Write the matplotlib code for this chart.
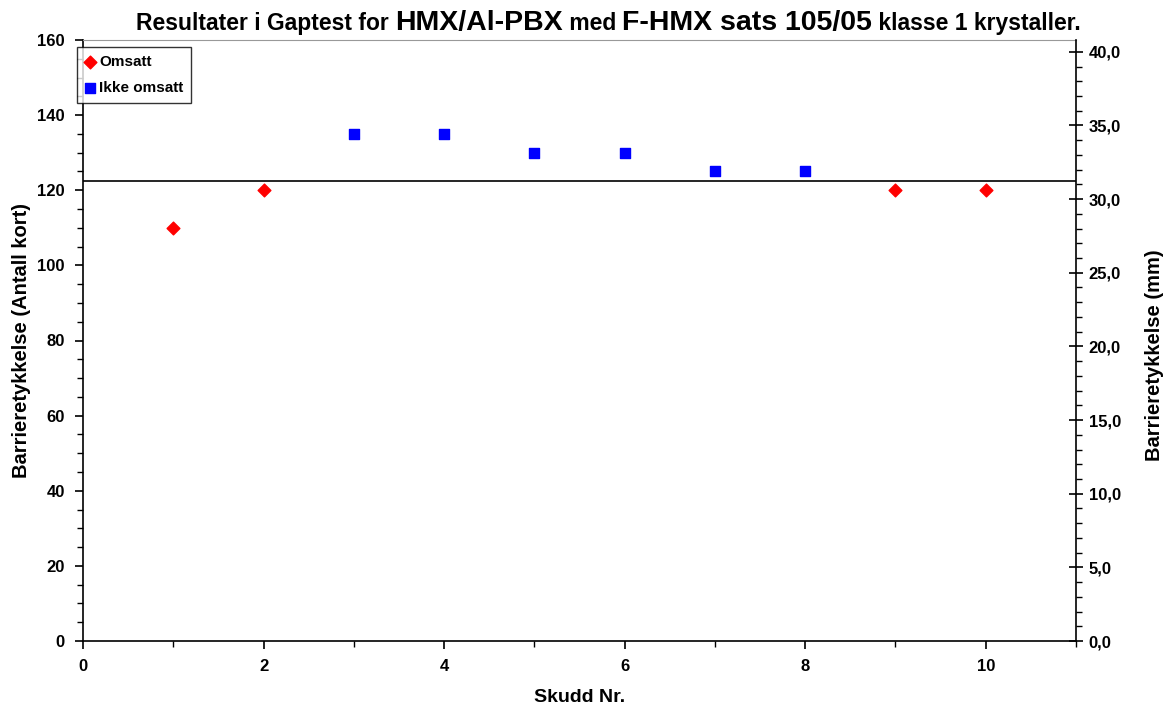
import matplotlib
matplotlib.use("Agg")
import matplotlib.pyplot as plt
from matplotlib.ticker import MultipleLocator, FuncFormatter

plt.rcParams['font.family'] = ['Liberation Sans', 'DejaVu Sans']
plt.rcParams['font.weight'] = 'bold'

# data
skudd_omsatt = [1, 2, 9, 10]
kort_omsatt = [110, 120, 120, 120]
skudd_ikke = [3, 4, 5, 6, 7, 8]
kort_ikke = [135, 135, 130, 130, 125, 125]
middel_kort = 122.5
mm_per_kort = 0.255

W, H = 1163, 706
fig = plt.figure(figsize=(W / 100, H / 100), dpi=100)
ax = fig.add_axes([83 / W, 1 - 641 / H, (1076 - 83) / W, (641 - 40) / H])

ax.scatter(skudd_omsatt, kort_omsatt, marker='D', s=42, color='#ff0000', label='Omsatt', zorder=3)
ax.scatter(skudd_ikke, kort_ikke, marker='s', s=60, color='#0000ff', label='Ikke omsatt', zorder=3)
ax.axhline(middel_kort, color='black', lw=1.2, zorder=2)

ax.set_xlim(0, 11)
ax.set_ylim(0, 160)
ax.xaxis.set_major_locator(MultipleLocator(2))
ax.xaxis.set_minor_locator(MultipleLocator(1))
ax.yaxis.set_major_locator(MultipleLocator(20))
ax.yaxis.set_minor_locator(MultipleLocator(5))
ax.tick_params(which='major', direction='out', length=6, width=1.2, labelsize=12, pad=7)
ax.tick_params(which='minor', direction='out', length=4, width=1)
ax.spines['top'].set_color('#999999')
ax.spines['right'].set_visible(False)
ax.spines['left'].set_linewidth(1.2)
ax.spines['bottom'].set_linewidth(1.2)
for lab in ax.get_xticklabels() + ax.get_yticklabels():
    lab.set_fontweight('bold')

ax.set_xlabel('Skudd Nr.', fontsize=14, fontweight='bold')
ax.xaxis.set_label_coords(0.5, -(698 - 641) / (641 - 40))
ax.xaxis.label.set_va('center')
ax.set_ylabel('Barrieretykkelse (Antall kort)', fontsize=14.5, fontweight='bold')
ax.yaxis.set_label_coords(-(83 - 22) / (1076 - 83), 0.5)
ax.yaxis.label.set_va('center')

ax2 = ax.twinx()
ax2.set_ylim(0, 160 * mm_per_kort)
ax2.yaxis.set_major_locator(MultipleLocator(5))
ax2.yaxis.set_minor_locator(MultipleLocator(1))
ax2.yaxis.set_major_formatter(FuncFormatter(lambda v, p: f"{v:.1f}".replace('.', ',')))
ax2.tick_params(which='major', direction='inout', length=10, width=1.2, labelsize=12, pad=4)
ax2.tick_params(which='minor', direction='out', length=4, width=1)
for s in ['top', 'left', 'bottom']:
    ax2.spines[s].set_visible(False)
ax2.spines['right'].set_linewidth(1.2)
for lab in ax2.get_yticklabels():
    lab.set_fontweight('bold')
ax2.set_ylabel('Barrieretykkelse (mm)', fontsize=14.5, fontweight='bold', rotation=90)
ax2.yaxis.set_label_coords(1 + (1155 - 1076) / (1076 - 83), (641 - 355) / (641 - 40))
ax2.yaxis.label.set_va('center')

leg = ax.legend(loc='upper left', bbox_to_anchor=(77 / W, 1 - 47 / H), bbox_transform=fig.transFigure,
                frameon=True, fancybox=False, edgecolor='black', handletextpad=0.25,
                handlelength=0.7, borderpad=0.5, borderaxespad=0, labelspacing=0.8,
                prop={'weight': 'bold', 'size': 11})
leg.get_frame().set_linewidth(1.0)

# tittel med blandede skriftstørrelser, bitene settes etter hverandre
deler = [("Resultater i Gaptest for ", 16.5), ("HMX/Al-PBX", 20.5), (" med ", 16.5),
         ("F-HMX sats 105/05", 20.5), (" klasse 1 krystaller.", 16.5)]
renderer = fig.canvas.get_renderer()
x_px = 136
for tekst, st in deler:
    t = fig.text(x_px / W, 1 - 30 / H, tekst, fontsize=st, fontweight='bold', va='baseline')
    x_px = t.get_window_extent(renderer).x1

fig.savefig('out.png', dpi=100)
